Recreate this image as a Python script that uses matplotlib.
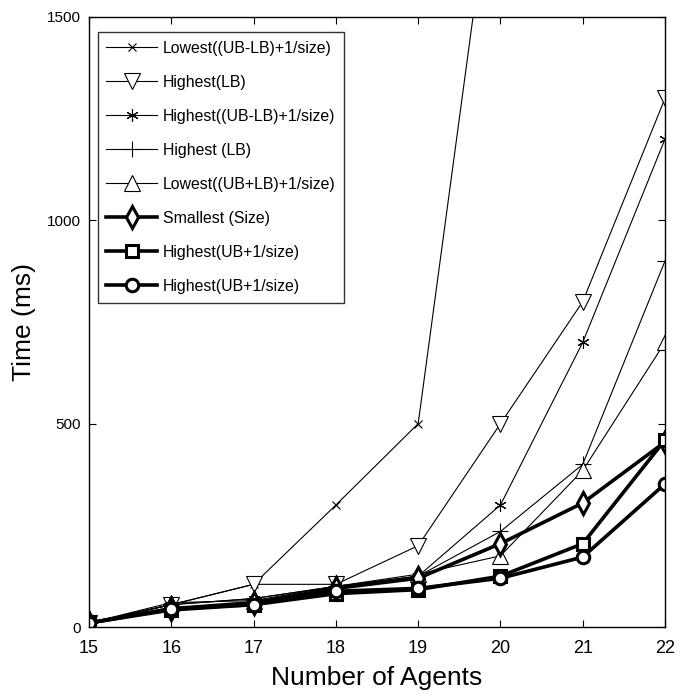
import matplotlib
matplotlib.use("Agg")
import matplotlib.pyplot as plt

# ------------------------- Dados -------------------------
agents = [15, 16, 17, 18, 19, 20, 21, 22]

lowest_ublb = [10, 55, 105, 300, 500, 2000]            # sai do gráfico depois de 19
highest_lb = [10, 55, 105, 105, 200, 500, 800, 1300]
highest_ublb = [10, 55, 70, 100, 125, 300, 700, 1200]
highest_lb2 = [10, 55, 70, 100, 125, 235, 400, 900]
lowest_ubplb = [10, 60, 65, 100, 130, 175, 385, 700]
smallest_size = [10, 45, 60, 95, 120, 205, 305, 455]
highest_ub_sq = [10, 42, 55, 82, 92, 125, 205, 460]
highest_ub_ci = [10, 45, 55, 88, 95, 120, 172, 352]

labels = ["Lowest((UB-LB)+1/size)", "Highest(LB)", "Highest((UB-LB)+1/size)",
          "Highest (LB)", "Lowest((UB+LB)+1/size)", "Smallest (Size)",
          "Highest(UB+1/size)", "Highest(UB+1/size)"]

# ------------------------- Gráfico -------------------------
narrow = ["Liberation Sans Narrow", "Liberation Sans", "DejaVu Sans"]
plt.rcParams['font.family'] = ["Liberation Sans", "DejaVu Sans"]

fig = plt.figure(figsize=(6.87, 6.96), dpi=100)
ax = fig.add_axes([0.1296, 0.0991, 0.8384, 0.8765])

thin = dict(color='k', lw=0.8, mfc='white', mec='k', mew=0.8, ms=9)
thick = dict(color='k', lw=2.6, mfc='white', mec='k', mew=2.2, ms=9)

ax.plot(agents[:len(lowest_ublb)], lowest_ublb, marker='x', label=labels[0], **dict(thin, ms=6))
ax.plot(agents, highest_lb, marker='v', label=labels[1], **dict(thin, ms=11))
ax.plot(agents, highest_ublb, marker=(6, 2, 0), label=labels[2], **dict(thin, ms=9))
ax.plot(agents, highest_lb2, marker='+', label=labels[3], **dict(thin, ms=11))
ax.plot(agents, lowest_ubplb, marker='^', label=labels[4], **dict(thin, ms=11))
ax.plot(agents, smallest_size, marker='d', label=labels[5], **dict(thick, ms=11))
ax.plot(agents, highest_ub_sq, marker='s', label=labels[6], **thick)
ax.plot(agents, highest_ub_ci, marker='o', label=labels[7], **thick)

ax.set_xlim(15, 22)
ax.set_ylim(0, 1500)
ax.set_xticks(agents)
ax.set_yticks([0, 500, 1000, 1500])
ax.tick_params(direction='in', length=5, width=0.8, top=True, right=True,
               labelsize=11, pad=6)
ax.tick_params(axis='x', pad=9)
for lab in ax.get_xticklabels():
    lab.set_family(narrow)
    lab.set_fontsize(13)
for s in ax.spines.values():
    s.set_linewidth(1.0)

ax.set_xlabel("Number of Agents", fontsize=19, family=narrow, labelpad=7)
ax.set_ylabel("Time (ms)", fontsize=19, labelpad=8)

leg = ax.legend(loc='upper left', bbox_to_anchor=(0.015, 0.975),
                prop={'family': narrow, 'size': 11.4}, frameon=True, fancybox=False,
                edgecolor='k', handlelength=3.2, labelspacing=1.2,
                borderpad=0.55, handletextpad=0.35, borderaxespad=0.0)
leg.get_frame().set_linewidth(1.0)

plt.savefig("out.png", dpi=100)
